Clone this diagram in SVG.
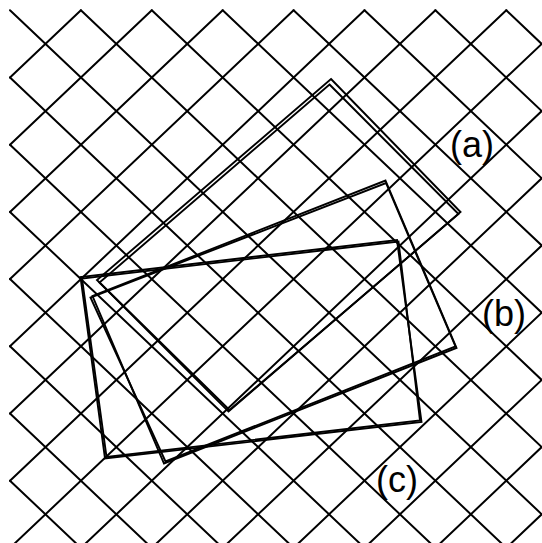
<svg xmlns="http://www.w3.org/2000/svg" width="542" height="543" viewBox="0 0 542 543">
<style>
.grid line{stroke:#000;stroke-width:2;stroke-linecap:round}
.rect polygon{fill:none;stroke:#000;stroke-width:1.9;stroke-linejoin:miter}
.lbl{font-family:"Liberation Sans",Arial,sans-serif;font-size:36px;fill:#000}
</style>
<rect width="542" height="543" fill="#fff"/>
<g id="grid" class="grid">
<line x1="506.3" y1="10.3" x2="541.75" y2="43.9"/>
<line x1="435.4" y1="10.3" x2="541.75" y2="111.1"/>
<line x1="364.5" y1="10.3" x2="541.75" y2="178.3"/>
<line x1="293.6" y1="10.3" x2="541.75" y2="245.5"/>
<line x1="222.7" y1="10.3" x2="541.75" y2="312.7"/>
<line x1="151.8" y1="10.3" x2="541.75" y2="379.9"/>
<line x1="80.9" y1="10.3" x2="541.75" y2="447.1"/>
<line x1="10" y1="10.3" x2="541.75" y2="514.3"/>
<line x1="10" y1="77.5" x2="541.75" y2="581.5"/>
<line x1="10" y1="144.7" x2="541.75" y2="648.7"/>
<line x1="10" y1="211.9" x2="541.75" y2="715.9"/>
<line x1="10" y1="279.1" x2="541.75" y2="783.1"/>
<line x1="10" y1="346.3" x2="541.75" y2="850.3"/>
<line x1="10" y1="413.5" x2="541.75" y2="917.5"/>
<line x1="10" y1="480.7" x2="541.75" y2="984.7"/>
<line x1="80.9" y1="10.3" x2="10" y2="77.5"/>
<line x1="151.8" y1="10.3" x2="10" y2="144.7"/>
<line x1="222.7" y1="10.3" x2="10" y2="211.9"/>
<line x1="293.6" y1="10.3" x2="10" y2="279.1"/>
<line x1="364.5" y1="10.3" x2="10" y2="346.3"/>
<line x1="435.4" y1="10.3" x2="10" y2="413.5"/>
<line x1="506.3" y1="10.3" x2="10" y2="480.7"/>
<line x1="541.75" y1="43.9" x2="10" y2="547.9"/>
<line x1="541.75" y1="111.1" x2="10" y2="615.1"/>
<line x1="541.75" y1="178.3" x2="10" y2="682.3"/>
<line x1="541.75" y1="245.5" x2="10" y2="749.5"/>
<line x1="541.75" y1="312.7" x2="10" y2="816.7"/>
<line x1="541.75" y1="379.9" x2="10" y2="883.9"/>
<line x1="541.75" y1="447.1" x2="10" y2="951.1"/>
<line x1="541.75" y1="514.3" x2="10" y2="1018.3"/>
</g>
<g id="rect-a" class="rect">
<polygon points="331,79 460.5,212 228.5,411.5 97,280"/>
<polygon points="329.5,84.5 458.5,214 229.5,410 99.5,282.5"/>
<text class="lbl" x="450" y="156.5">(a)</text>
</g>
<g id="rect-b" class="rect">
<polygon points="385.5,180.5 456.5,348 164,463.5 92.5,296"/>
<polygon points="386,183 455.5,346.5 165.5,461.5 90.5,297.5"/>
<text class="lbl" x="482" y="325.5">(b)</text>
</g>
<g id="rect-c" class="rect">
<polygon points="397,240 421.5,422 105,458.5 80.5,277"/>
<polygon points="398.5,241.5 420,420.5 106.5,457 82,278.5"/>
<text class="lbl" x="376" y="492">(c)</text>
</g>
</svg>
